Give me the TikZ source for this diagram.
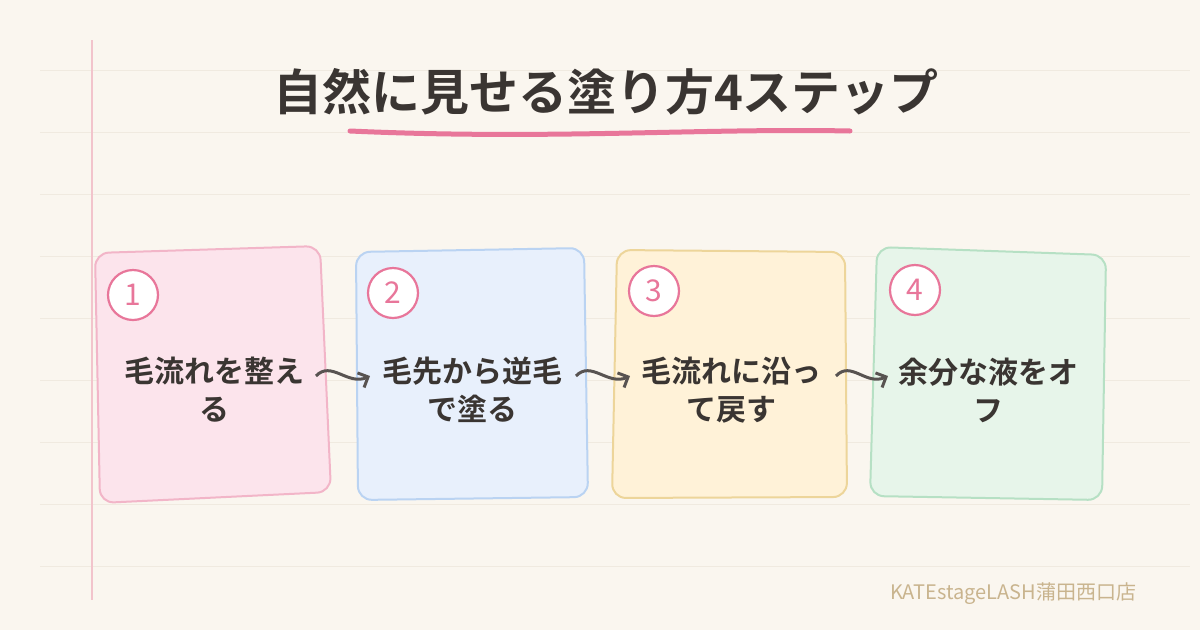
\documentclass[tikz,border=0pt]{standalone}
\usepackage{fontspec}
\newfontfamily\cjk{Noto Sans CJK JP}[BoldFont={* Light}]
\newfontfamily\cjkb{Noto Sans CJK JP}[BoldFont={* Bold}]
\usetikzlibrary{arrows.meta,calc}
\definecolor{bg}{HTML}{FAF6EF}
\definecolor{rule}{HTML}{F0EAE0}
\definecolor{margin}{HTML}{F2C4CC}
\definecolor{ink}{HTML}{3A3532}
\definecolor{accent}{HTML}{E8769A}
\definecolor{fa}{HTML}{FCE4EC}\definecolor{sa}{HTML}{F2B5C8}
\definecolor{fb}{HTML}{E8F0FC}\definecolor{sb}{HTML}{BAD3F2}
\definecolor{fc}{HTML}{FFF2D8}\definecolor{sc}{HTML}{EDD59A}
\definecolor{fd}{HTML}{E7F5EA}\definecolor{sd}{HTML}{B6E0C4}
\definecolor{foot}{HTML}{C9B48E}
\tikzset{
 box/.style={draw=#1, line width=2pt, rounded corners=14pt},
 num/.style={circle, draw=accent, fill=white, line width=2.2pt, minimum size=50pt, inner sep=0pt, font=\cjk\fontsize{30}{30}\selectfont, text=accent},
 lbl/.style={align=center, text=ink, font=\cjkb\bfseries\fontsize{30}{38}\selectfont},
 arr/.style={draw=ink!85, line width=3pt, -{Straight Barb[length=8pt,width=16pt]}}
}
\begin{document}
\begin{tikzpicture}[x=1pt,y=-1pt]
\fill[bg] (0,0) rectangle (1200,630);
\useasboundingbox (0,0) rectangle (1200,630);
\foreach \y in {70,132,194,256,318,380,442,504,566}
  \draw[rule, line width=1pt] (40,\y) -- (1190,\y);
\draw[margin, line width=1.2pt] (92,40) -- (92,600);
\node[text=ink, font=\cjkb\bfseries\fontsize{49}{49}\selectfont] (title) at (606,92) {自然に見せる塗り方4ステップ};
\draw[accent, line width=5pt, line cap=round] (350,131) .. controls (550,140) and (700,128) .. (850,131);
% boxes
\draw[box=sa, fill=fa] (95,253) -- (320,246) -- (331,492) -- (100,503) -- cycle;
\draw[box=sb, fill=fb] (356,252) -- (584,248) -- (588,497) -- (358,500) -- cycle;
\draw[box=sc, fill=fc] (617,250) -- (845,252) -- (847,497) -- (612,498) -- cycle;
\draw[box=sd, fill=fd] (877,247) -- (1106,255) -- (1102,500) -- (870,496) -- cycle;
\node[num] (n1) at (133,295) {1};
\node[num] (n2) at (393,293) {2};
\node[num] (n3) at (654,291) {3};
\node[num] (n4) at (915,290) {4};
\node[lbl] (t1) at (214,390) {毛流れを整え\\る};
\node[lbl] (t2) at (472,390) {毛先から逆毛\\で塗る};
\node[lbl] (t3) at (731,390) {毛流れに沿っ\\て戻す};
\node[lbl] (t4) at (988,390) {余分な液をオ\\フ};
\coordinate (a1) at (316,376); \coordinate (b1) at (370,376);
\coordinate (a2) at (576,376); \coordinate (b2) at (630,376);
\coordinate (a3) at (836,376); \coordinate (b3) at (888,376);
\foreach \a/\b in {a1/b1,a2/b2,a3/b3}
  \draw[arr] (\a) .. controls ($(\a)+(15,-16)$) and ($(\b)+(-22,10)$) .. (\b);
\node[text=foot, font=\cjk\fontsize{20}{20}\selectfont, anchor=east] (ft) at (1140,594) {KATEstageLASH蒲田西口店};
\end{tikzpicture}
\end{document}
